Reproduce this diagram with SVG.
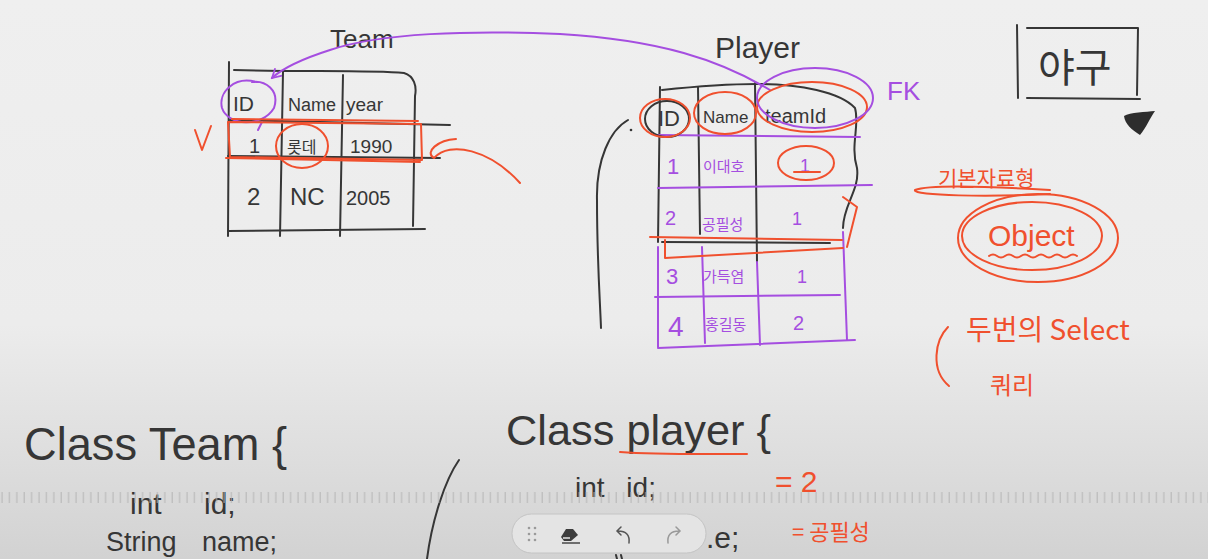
<svg xmlns="http://www.w3.org/2000/svg" width="1208" height="559" viewBox="0 0 1208 559">
<defs>
<linearGradient id="bg" x1="0" y1="0" x2="0" y2="1">
<stop offset="0" stop-color="#efefef"/>
<stop offset="0.58" stop-color="#ececec"/>
<stop offset="0.78" stop-color="#e0e0e0"/>
<stop offset="1" stop-color="#d2d2d2"/>
</linearGradient>
<pattern id="ticks" x="0" y="0" width="7.4" height="12" patternUnits="userSpaceOnUse">
<line x1="2" y1="0" x2="2" y2="11" stroke="#b4b4b4" stroke-width="1"/>
</pattern>
<marker id="ph" viewBox="0 0 12 12" refX="10" refY="6" markerWidth="12" markerHeight="12" markerUnits="userSpaceOnUse" orient="auto">
<path d="M1 1 L10 6 L1 11" fill="none" stroke="#a54ee0" stroke-width="1.8"/>
</marker>
<style>
.k{fill:none;stroke:#363636;stroke-width:2;stroke-linecap:round;stroke-linejoin:round}
.p{fill:none;stroke:#a54ee0;stroke-width:2;stroke-linecap:round;stroke-linejoin:round}
.r{fill:none;stroke:#f0502e;stroke-width:2;stroke-linecap:round;stroke-linejoin:round}
.tk{fill:#363636;font-family:"Liberation Sans","Noto Sans CJK KR",sans-serif}
.tp{fill:#a54ee0;font-family:"Liberation Sans","Noto Sans CJK KR",sans-serif}
.tr{fill:#f0502e;font-family:"Liberation Sans","Noto Sans CJK KR",sans-serif}
.kr{font-family:"Noto Sans CJK KR",sans-serif}
</style>
</defs>
<rect x="0" y="0" width="1208" height="559" fill="url(#bg)"/>

<!-- Team table -->
<g id="team">
<text class="tk" x="330" y="48" font-size="26">Team</text>
<path class="k" d="M229 62 L228 236"/>
<path class="k" d="M234 70 C300 72 370 70 404 73 C414 76 417 86 415 96 L413 226"/>
<path class="k" d="M283 72 L280 236"/>
<path class="k" d="M343 75 L340 236"/>
<path class="k" d="M230 120 L450 125"/>
<path class="k" d="M228 156 L440 158"/>
<path class="k" d="M228 231 L425 229"/>
<text class="tk" x="233" y="111" font-size="21">ID</text>
<text class="tk" x="288" y="111" font-size="18">Name</text>
<text class="tk" x="346" y="111" font-size="19">year</text>
<text class="tk" x="249" y="153" font-size="20">1</text>
<text class="tk kr" x="287" y="153" font-size="16">롯데</text>
<text class="tk" x="350" y="153" font-size="19">1990</text>
<text class="tk" x="247" y="205" font-size="24">2</text>
<text class="tk" x="290" y="205" font-size="24">NC</text>
<text class="tk" x="346" y="205" font-size="20">2005</text>
</g>

<!-- Player table -->
<g id="player">
<text class="tk" x="715" y="58" font-size="30">Player</text>
<path class="k" d="M660 87 L658 242"/>
<path class="k" d="M698 87 L700 234"/>
<path class="k" d="M755 83 L757 262"/>
<path class="k" d="M662 90 C700 86 730 84 757 84 C800 84 840 92 855 108 C860 125 850 145 857 168 C860 190 843 205 843 228"/>
<path class="k" d="M662 242 L830 243"/>
<path class="k" d="M628 120 C610 130 596 160 597 200 C597 260 600 300 601 328"/>
<circle cx="631" cy="130" r="1.3" fill="#363636"/>
<path class="p" d="M658 247 L658 347"/>
<path class="p" d="M702 247 L705 343"/>
<path class="p" d="M757 262 L760 345"/>
<path class="p" d="M843 232 L847 340"/>
<path class="p" d="M657 135 L860 137"/>
<path class="p" d="M658 188 L872 185"/>
<path class="p" d="M655 297 L840 295"/>
<path class="p" d="M658 348 L855 340"/>
<text class="tk" x="658" y="126" font-size="22">ID</text>
<text class="tk" x="703" y="123" font-size="17">Name</text>
<text class="tk" x="765" y="123" font-size="20">teamId</text>
<text class="tp" x="667" y="174" font-size="22">1</text>
<text class="tp kr" x="703" y="172" font-size="15">이대호</text>
<text class="tp" x="800" y="172" font-size="18">1</text>
<text class="tp" x="665" y="225" font-size="20">2</text>
<text class="tp kr" x="702" y="230" font-size="15">공필성</text>
<text class="tp" x="792" y="225" font-size="18">1</text>
<text class="tp" x="666" y="284" font-size="22">3</text>
<text class="tp kr" x="703" y="282" font-size="15">가득염</text>
<text class="tp" x="797" y="283" font-size="18">1</text>
<text class="tp" x="668" y="336" font-size="28">4</text>
<text class="tp kr" x="705" y="330" font-size="15">홍길동</text>
<text class="tp" x="793" y="330" font-size="20">2</text>
<text class="tp" x="887" y="100" font-size="26">FK</text>
</g>

<!-- Baseball box -->
<g id="baseball">
<path class="k" d="M1017 25 L1018 98"/>
<path class="k" d="M1027 28 L1138 28 L1137 95"/>
<path class="k" d="M1027 98 L1140 99"/>
<text class="tk kr" x="1038" y="82" font-size="40">야구</text>
<path d="M1124 116 C1130 112 1146 112 1155 111 C1150 118 1146 128 1140 135 C1132 130 1125 124 1124 116 Z" fill="#2d2d2d"/>
</g>

<!-- Notes -->
<g id="notes">
<text class="tr kr" x="938" y="186" font-size="21">기본자료형</text>
<path class="r" d="M1050 190 C1000 187 930 184 915 190 C912 196 990 197 1050 194"/>
<ellipse class="r" cx="1038" cy="238" rx="80" ry="44"/>
<ellipse class="r" cx="1032" cy="236" rx="70" ry="34"/>
<text class="tr" x="988" y="246" font-size="30">Object</text>
<path class="r" d="M989 256 q4 -3 8 0 q4 3 8 0 q4 -3 8 0 q4 3 8 0 q4 -3 8 0 q4 3 8 0 q4 -3 8 0 q4 3 8 0 q4 -3 8 0 q4 3 8 0 q4 -3 8 0"/>
<path class="r" d="M948 327 C935 340 930 370 949 386"/>
<text class="tr kr" x="966" y="340" font-size="28">두번의 Select</text>
<text class="tr kr" x="990" y="394" font-size="24">쿼리</text>
</g>

<!-- Code -->
<g id="code-team">
<text class="tk" x="24" y="460" font-size="46" textLength="263" lengthAdjust="spacingAndGlyphs">Class Team {</text>
<text class="tk" x="130" y="514" font-size="30" word-spacing="34">int id;</text>
<text class="tk" x="106" y="551" font-size="27" word-spacing="18">String name;</text>
</g>
<g id="code-player">
<path class="k" d="M459 460 C445 480 432 520 427 559"/>
<text class="tk" x="506" y="445" font-size="42" textLength="265" lengthAdjust="spacingAndGlyphs">Class player {</text>
<path class="r" d="M620 452 C660 455 710 454 747 454"/>
<text class="tk" x="575" y="497" font-size="28" word-spacing="14">int id;</text>
<text class="tr" x="775" y="492" font-size="30">= 2</text>
<text class="tk" x="706" y="548" font-size="30">.e;</text>
<text class="tr kr" x="792" y="540" font-size="22">= 공필성</text>
</g>

<!-- Connectors and marks -->
<g id="connectors">
<path class="p" d="M770 90 C720 60 660 40 560 34 C470 30 380 33 330 50 C305 58 285 66 272 78" marker-end="url(#ph)"/>
<path class="p" d="M256 82 C235 76 218 92 222 108 C228 126 262 128 274 108 C280 90 265 80 252 82 M262 122 L258 130"/>
<path class="r" d="M228 122 L421 124 L422 160 L230 157 Z"/>
<path class="r" d="M232 119 L418 121 M226 158 L420 162"/>
<ellipse class="r" cx="302" cy="146" rx="26" ry="22"/>
<path class="r" d="M195 130 L202 150 L211 126"/>
<path class="r" d="M456 139 C438 140 424 152 434 158 C450 140 490 150 520 183"/>
<ellipse class="k" cx="667" cy="119" rx="22" ry="18"/>
<ellipse class="r" cx="665" cy="118" rx="25" ry="19"/>
<ellipse class="r" cx="725" cy="113" rx="31" ry="21"/>
<ellipse class="r" cx="812" cy="107" rx="55" ry="25"/>
<ellipse class="p" cx="815" cy="98" rx="58" ry="30"/>
<ellipse class="r" cx="806" cy="163" rx="28" ry="17"/>
<path class="r" d="M794 172 L820 172" stroke-width="3"/>
<path class="r" d="M650 237 L842 240 M665 240 L665 258 L843 248 M843 197 L857 207 L847 247"/>
</g>

<!-- Ruler and toolbar -->
<rect x="0" y="491" width="1208" height="12" fill="url(#ticks)"/>
<g id="toolbar">
<rect x="512" y="514" width="194" height="39" rx="19.5" fill="#e4e4e4" stroke="#c4c4c4" stroke-width="1"/>
<g fill="#9a9a9a">
<circle cx="529" cy="528" r="1.3"/><circle cx="535" cy="528" r="1.3"/>
<circle cx="529" cy="534" r="1.3"/><circle cx="535" cy="534" r="1.3"/>
<circle cx="529" cy="540" r="1.3"/><circle cx="535" cy="540" r="1.3"/>
</g>
<path d="M566 529 L573 529 L578 535 L571 541 L564 541 L561 537 Z" fill="#3c3c3c"/>
<path d="M563 538 L570 538" stroke="#e4e4e4" stroke-width="1.5"/>
<path d="M562 543 L580 543" stroke="#3c3c3c" stroke-width="1.4"/>
<path d="M629 543 C630 535 626 531 618 531 M621 527 L617 531 L621 535" fill="none" stroke="#555" stroke-width="1.5" stroke-linecap="round"/>
<path d="M668 543 C667 535 671 531 679 531 M676 527 L680 531 L676 535" fill="none" stroke="#999" stroke-width="1.5" stroke-linecap="round"/>
</g>
<path class="k" d="M616 555 L617 559 M621 555 L622 559" stroke-width="1.5"/>
</svg>
